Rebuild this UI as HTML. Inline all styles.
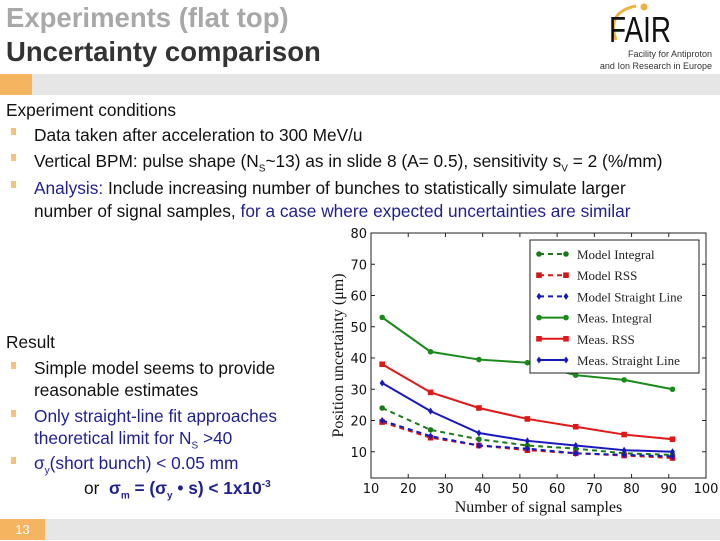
<!DOCTYPE html>
<html><head><meta charset="utf-8"><style>
body{margin:0;width:720px;height:540px;overflow:hidden;background:#fff;font-family:"Liberation Sans",sans-serif;position:relative}
.a{position:absolute;white-space:nowrap}
.t{font-size:17.3px;color:#111}
.b{color:#1f1f8f}
.bul{position:absolute;width:5px;height:7px;background:#f5c27a}
</style></head><body>
<div class="a" style="left:6px;top:2px;font-size:27.5px;font-weight:bold;color:#a8a8a8">Experiments (flat top)</div>
<div class="a" style="left:6px;top:36px;font-size:27.5px;font-weight:bold;color:#333">Uncertainty comparison</div>
<div class="a" style="left:606px;top:2px;width:70px;height:45px">
<svg width="70" height="45"><path d="M10 38 Q0 10 30 4" stroke="#f0b040" stroke-width="3" fill="none"/><circle cx="38" cy="5" r="3.5" fill="#f0b040"/><text x="3" y="40" font-family="Liberation Sans" font-size="36" fill="#111" textLength="62" lengthAdjust="spacingAndGlyphs">FAIR</text></svg></div>
<div class="a" style="right:8px;top:48px;font-size:9px;color:#333;text-align:right;line-height:12px">Facility for Antiproton<br>and Ion Research in Europe</div>
<div class="a" style="left:0;top:74px;width:720px;height:21px;background:#e6e6e6"></div>
<div class="a" style="left:0;top:74px;width:32px;height:21px;background:#f5b560"></div>

<div class="a t" style="left:6px;top:100px">Experiment conditions</div>
<div class="bul" style="left:11px;top:128px"></div>
<div class="a t" style="left:34px;top:125px">Data taken after acceleration to 300 MeV/u</div>
<div class="bul" style="left:11px;top:154px"></div>
<div class="a t" style="left:34px;top:151px">Vertical BPM: pulse shape (N<sub style="font-size:10px">S</sub>~13) as in slide 8 (A= 0.5), sensitivity s<sub style="font-size:10px">V</sub> = 2 (%/mm)</div>
<div class="bul" style="left:11px;top:181px"></div>
<div class="a t" style="left:34px;top:177px;line-height:23px"><span class="b">Analysis:</span> Include increasing number of bunches to statistically simulate larger<br>number of signal samples, <span class="b">for a case where expected uncertainties are similar</span></div>

<div class="a t" style="left:6px;top:332px">Result</div>
<div class="bul" style="left:11px;top:362px"></div>
<div class="a t" style="left:34px;top:358px;line-height:21.5px">Simple model seems to provide<br>reasonable estimates</div>
<div class="bul" style="left:11px;top:410px"></div>
<div class="a t b" style="left:34px;top:406px;line-height:21.5px">Only straight-line fit approaches<br>theoretical limit for N<sub style="font-size:10px">S</sub> &gt;40</div>
<div class="bul" style="left:11px;top:457px"></div>
<div class="a t b" style="left:34px;top:453px">σ<sub style="font-size:10px">y</sub>(short bunch) &lt; 0.05 mm</div>
<div class="a t b" style="left:84px;top:478px;font-weight:bold"><span style="color:#111;font-weight:normal">or</span>&nbsp; σ<sub style="font-size:10px">m</sub> = (σ<sub style="font-size:10px">y</sub> • s) &lt; 1x10<sup style="font-size:10px">-3</sup></div>

<div class="a" style="left:0;top:519px;width:720px;height:21px;background:#e6e6e6"></div>
<div class="a" style="left:0;top:519px;width:45px;height:21px;background:#f5b560;color:#fff;font-size:13px;text-align:center;line-height:22px">13</div>

<svg class="a" style="left:0;top:0" width="720" height="540" id="chart"></svg>
<script>
const xs=[13,26,39,52,65,78,91];
const modelIntegral=[24,17,14,12,11,9.5,9];
const modelRSS=[19.5,14.5,12,10.5,9.5,8.8,8];
const modelSL=[20,15,12,11,9.5,9,8.5];
const measIntegral=[53,42,39.5,38.5,34.5,33,30];
const measRSS=[38,29,24,20.5,18,15.5,14];
const measSL=[32,23,16,13.5,12,10.5,10];
const xTicks=[10,20,30,40,50,60,70,80,90,100];
const yTicks=[10,20,30,40,50,60,70,80];
const seriesNames=["Model Integral","Model RSS","Model Straight Line","Meas. Integral","Meas. RSS","Meas. Straight Line"];
const L=371,R=706,T=233,B=478,X0=10,X1=100,Y1=80,Y0=1.6;
const sx=v=>L+(v-X0)/(X1-X0)*(R-L);
const sy=v=>B-(v-Y0)/(Y1-Y0)*(B-T);
const svg=document.getElementById('chart');const NS="http://www.w3.org/2000/svg";
function mk(t,a,p){const e=document.createElementNS(NS,t);for(const k in a)e.setAttribute(k,a[k]);(p||svg).appendChild(e);return e;}
let e=mk('rect',{x:L,y:T,width:R-L,height:B-T,fill:'none',stroke:'#222','stroke-width':1});


xTicks.forEach(t=>{mk('line',{x1:sx(t),x2:sx(t),y1:B,y2:B-4,stroke:'#222'});mk('line',{x1:sx(t),x2:sx(t),y1:T,y2:T+4,stroke:'#222'});
const tx=mk('text',{x:sx(t),y:B+15,'text-anchor':'middle','font-size':13,fill:'#111','font-family':'DejaVu Sans'});tx.textContent=t;

});
yTicks.forEach(t=>{mk('line',{x1:L,x2:L+4,y1:sy(t),y2:sy(t),stroke:'#222'});mk('line',{x1:R,x2:R-4,y1:sy(t),y2:sy(t),stroke:'#222'});
const tx=mk('text',{x:L-4,y:sy(t)+5,'text-anchor':'end','font-size':13,fill:'#111','font-family':'DejaVu Sans'});tx.textContent=t;

});
let xt=mk('text',{x:(L+R)/2,y:512,'text-anchor':'middle','font-size':16,fill:'#111','font-family':'Liberation Serif'});xt.textContent='Number of signal samples';


let yt=mk('text',{x:0,y:0,'text-anchor':'middle','font-size':16,fill:'#111','font-family':'Liberation Serif',transform:`translate(343,${(T+B)/2}) rotate(-90)`});yt.textContent='Position uncertainty (μm)';


const series=[[modelIntegral,'#1a7a1a',true,'circle'],[modelRSS,'#d01818',true,'square'],[modelSL,'#1818c0',true,'diamond'],[measIntegral,'#1a8a1a',false,'circle'],[measRSS,'#e01818',false,'square'],[measSL,'#1818c0',false,'diamond']];
function marker(g,x,y,shape,c){if(shape==='circle')mk('circle',{cx:x,cy:y,r:2.8,fill:c},g);else if(shape==='square')mk('rect',{x:x-2.8,y:y-2.8,width:5.6,height:5.6,fill:c},g);else mk('polygon',{points:`${x},${y-3.5} ${x+2.5},${y} ${x},${y+3.5} ${x-2.5},${y}`,fill:c},g);}
series.forEach((s,i)=>{const g=mk('g',{});


mk('polyline',{points:xs.map((x,j)=>sx(x)+','+sy(s[0][j])).join(' '),fill:'none',stroke:s[1],'stroke-width':2,'stroke-dasharray':s[2]?'5,4':''},g);
xs.forEach((x,j)=>marker(g,sx(x),sy(s[0][j]),s[3],s[1]));});
const lg=mk('g',{});


mk('rect',{x:530,y:240,width:169,height:133,fill:'#fff',stroke:'#222'},lg);
series.forEach((s,i)=>{const y=254+i*21.2;
mk('line',{x1:539,x2:566,y1:y,y2:y,stroke:s[1],'stroke-width':2,'stroke-dasharray':s[2]?'5,4':''},lg);
marker(lg,539,y,s[3],s[1]);marker(lg,566,y,s[3],s[1]);
const t=mk('text',{x:577,y:y+5,'font-size':13,fill:'#222','font-family':'Liberation Serif'},lg);t.textContent=seriesNames[i];

});
</script>
</body></html>
